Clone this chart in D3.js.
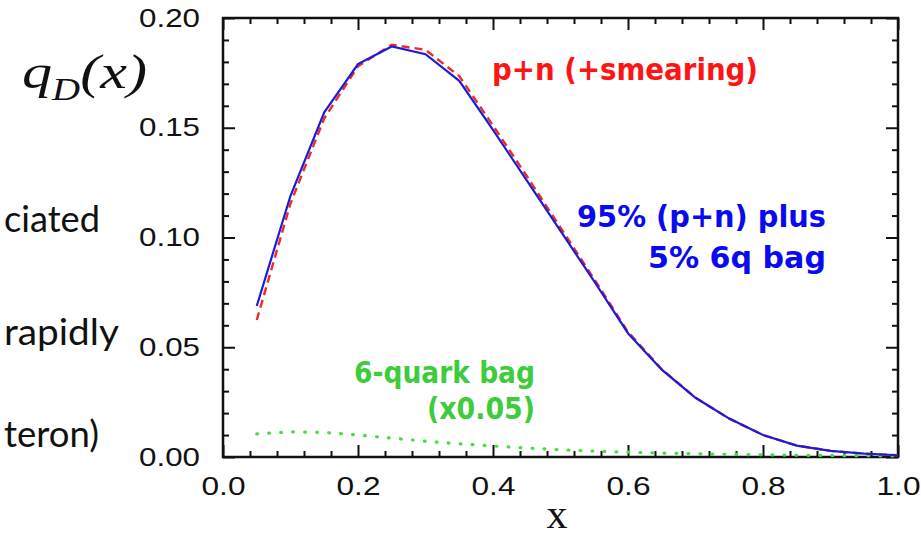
<!DOCTYPE html>
<html>
<head>
<meta charset="utf-8">
<script src="https://cdn.jsdelivr.net/npm/d3@7"></script>
<style>
    body { margin: 0; background: #fff; }
    svg { display: block; }
</style>
</head>
<body>
<div id="chart"></div>
<script>
// values
const xValues = [0.05, 0.10, 0.15, 0.20, 0.25, 0.30, 0.35, 0.40, 0.45, 0.50,
                 0.55, 0.60, 0.65, 0.70, 0.75, 0.80, 0.85, 0.90, 0.95, 1.00];
const pnSmeared = [0.0624, 0.1155, 0.1543, 0.178, 0.1878, 0.1855, 0.1735, 0.151, 0.128, 0.1045,
                   0.081, 0.057, 0.040, 0.027, 0.0175, 0.010, 0.0052, 0.0028, 0.0015, 0.0008];
const pnPlusBag = [0.0688, 0.119, 0.157, 0.179, 0.187, 0.1835, 0.1714, 0.149, 0.126, 0.103,
                   0.080, 0.0564, 0.0398, 0.027, 0.0175, 0.010, 0.0052, 0.0028, 0.0015, 0.0008];
const sixQuarkBag = [0.0105, 0.0115, 0.0112, 0.0100, 0.0086, 0.0072, 0.0060, 0.0050, 0.0041, 0.0033,
                     0.0027, 0.0022, 0.0018, 0.0015, 0.0012, 0.0010, 0.0008, 0.0007, 0.0006, 0.0005];
const xTicks = [0.0, 0.2, 0.4, 0.6, 0.8, 1.0];
const yTicks = [0.00, 0.05, 0.10, 0.15, 0.20];
const xMinor = [0.04, 0.08, 0.12, 0.16, 0.24, 0.28, 0.32, 0.36, 0.44, 0.48, 0.52, 0.56,
                0.64, 0.68, 0.72, 0.76, 0.84, 0.88, 0.92, 0.96];
const yMinor = [0.01, 0.02, 0.03, 0.04, 0.06, 0.07, 0.08, 0.09, 0.11, 0.12, 0.13, 0.14,
                0.16, 0.17, 0.18, 0.19];

const margin = { top: 18, right: 23, bottom: 81, left: 223 };
const width = 921, height = 538;
const w = width - margin.left - margin.right;
const h = height - margin.top - margin.bottom;

const svg = d3.select("#chart").append("svg")
    .attr("width", width)
    .attr("height", height);

const g = svg.append("g")
    .attr("transform", `translate(${margin.left},${margin.top})`);

const x = d3.scaleLinear().domain([0, 1]).range([0, w]);
const y = d3.scaleLinear().domain([0, 0.2]).range([h, 0]);

// axes: ticks pointing inward on all four sides
function styleAxis(sel) {
    sel.select(".domain").remove();
    sel.selectAll("line").attr("stroke", "#111").attr("stroke-width", 2);
}

const bottom = g.append("g").attr("transform", `translate(0,${h})`)
    .call(d3.axisBottom(x).tickValues(xTicks).tickSize(-12).tickPadding(20).tickFormat(d3.format(".1f")));
bottom.call(styleAxis);
bottom.selectAll("text")
    .attr("font-family", "Liberation Sans, Arial, sans-serif")
    .attr("font-size", 25).attr("fill", "#111")
    .attr("textLength", 44).attr("lengthAdjust", "spacingAndGlyphs");

g.append("g").attr("transform", `translate(0,${h})`)
    .call(d3.axisBottom(x).tickValues(xMinor).tickSize(-6).tickFormat(""))
    .call(styleAxis);

const left = g.append("g")
    .call(d3.axisLeft(y).tickValues(yTicks).tickSize(-12).tickPadding(23).tickFormat(d3.format(".2f")));
left.call(styleAxis);
left.selectAll("text")
    .attr("font-family", "Liberation Sans, Arial, sans-serif")
    .attr("font-size", 25).attr("fill", "#111")
    .attr("textLength", 61).attr("lengthAdjust", "spacingAndGlyphs");

g.append("g")
    .call(d3.axisLeft(y).tickValues(yMinor).tickSize(-6).tickFormat(""))
    .call(styleAxis);

g.append("g")
    .call(d3.axisTop(x).tickValues(xTicks).tickSize(-12).tickFormat(""))
    .call(styleAxis);
g.append("g")
    .call(d3.axisTop(x).tickValues(xMinor).tickSize(-6).tickFormat(""))
    .call(styleAxis);
g.append("g").attr("transform", `translate(${w},0)`)
    .call(d3.axisRight(y).tickValues(yTicks).tickSize(-12).tickFormat(""))
    .call(styleAxis);
g.append("g").attr("transform", `translate(${w},0)`)
    .call(d3.axisRight(y).tickValues(yMinor).tickSize(-6).tickFormat(""))
    .call(styleAxis);

// frame
g.append("rect")
    .attr("x", 0).attr("y", 0)
    .attr("width", w).attr("height", h)
    .attr("fill", "none")
    .attr("stroke", "#111")
    .attr("stroke-width", 2.5);

// curves
const line = d3.line()
    .x((d) => x(d[0]))
    .y((d) => y(d[1]));

const zip = (vals) => xValues.map((v, i) => [v, vals[i]]);

g.append("path")
    .datum(zip(sixQuarkBag))
    .attr("d", line)
    .attr("fill", "none")
    .attr("stroke", "#44dd44")
    .attr("stroke-width", 3.2)
    .attr("stroke-linecap", "round")
    .attr("stroke-dasharray", "0.8,11.2");

g.append("path")
    .datum(zip(pnSmeared))
    .attr("d", line)
    .attr("fill", "none")
    .attr("stroke", "#ee2a2a")
    .attr("stroke-width", 2.4)
    .attr("stroke-dasharray", "8,5");

g.append("path")
    .datum(zip(pnPlusBag))
    .attr("d", line)
    .attr("fill", "none")
    .attr("stroke", "#1c1cd8")
    .attr("stroke-width", 2.2);

// axis title
svg.append("text")
    .attr("x", 557).attr("y", 528)
    .attr("text-anchor", "middle")
    .attr("font-family", "Liberation Serif, Times New Roman, serif")
    .attr("font-size", 42)
    .attr("fill", "#111")
    .text("x");

// annotations
const note = (txt, xr, yb, len, color) => svg.append("text")
    .attr("x", xr).attr("y", yb)
    .attr("text-anchor", "end")
    .attr("font-family", "DejaVu Sans, sans-serif")
    .attr("font-weight", "bold")
    .attr("font-size", 30)
    .attr("fill", color)
    .attr("textLength", len)
    .attr("lengthAdjust", "spacingAndGlyphs")
    .text(txt);

note("p+n (+smearing)", 758, 80, 266, "#ff1414");
note("95% (p+n) plus", 826, 227, 249, "#0a0af0");
note("5% 6q bag", 826, 268, 178, "#0a0af0");
note("6-quark bag", 535, 383, 181, "#3ccc3c");
note("(x0.05)", 535, 419, 108, "#3ccc3c");

// q_D(x) label and the slide text cut at the left edge
const q = svg.append("text")
    .attr("x", 22).attr("y", 88)
    .attr("font-family", "Liberation Serif, Times New Roman, serif")
    .attr("font-style", "italic")
    .attr("font-size", 48)
    .attr("fill", "#111")
    .attr("textLength", 125)
    .attr("lengthAdjust", "spacingAndGlyphs");
q.append("tspan").text("q");
q.append("tspan").attr("font-size", 31).attr("dy", 12).text("D");
q.append("tspan").attr("dy", -12).text("(x)");

const slideText = [["ciated", 100, 232, 96], ["rapidly", 119, 345, 115], ["teron)", 99, 447, 95]];
slideText.forEach(([t, xr, yb, len]) => {
    svg.append("text")
        .attr("x", xr).attr("y", yb)
        .attr("text-anchor", "end")
        .attr("font-family", "Lato, Open Sans, sans-serif")
        .attr("font-size", 37)
        .attr("fill", "#111")
        .attr("textLength", len)
        .attr("lengthAdjust", "spacingAndGlyphs")
        .text(t);
});
</script>
</body>
</html>
